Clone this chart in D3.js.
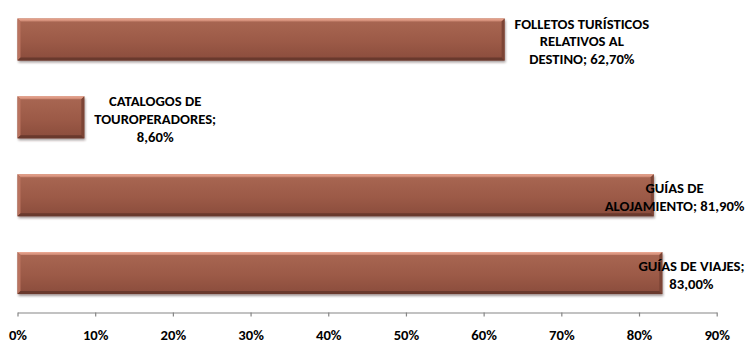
<!DOCTYPE html>
<html>
<head>
<meta charset="utf-8">
<script src="https://cdn.jsdelivr.net/npm/d3@7"></script>
<style>
  html, body { margin: 0; padding: 0; background: #ffffff; }
  svg { display: block; }
</style>
</head>
<body>
<svg id="chart" width="746" height="343"></svg>
<script>
// ---- data ----
const categories = [
  "FOLLETOS TURÍSTICOS RELATIVOS AL DESTINO",
  "CATALOGOS DE TOUROPERADORES",
  "GUÍAS DE ALOJAMIENTO",
  "GUÍAS DE VIAJES"
];
const values = [62.7, 8.6, 81.9, 83.0];
const labelLines = [
  ["FOLLETOS TURÍSTICOS", "RELATIVOS AL", "DESTINO; 62,70%"],
  ["CATALOGOS DE", "TOUROPERADORES;", "8,60%"],
  ["GUÍAS DE", "ALOJAMIENTO; 81,90%"],
  ["GUÍAS DE VIAJES;", "83,00%"]
];
const tickValues = [0, 10, 20, 30, 40, 50, 60, 70, 80, 90];
const tickLabels = ["0%", "10%", "20%", "30%", "40%", "50%", "60%", "70%", "80%", "90%"];

// ---- chart ----
const FONT = 'Carlito, "Liberation Sans Narrow", "Liberation Sans", Arial, sans-serif';
const FS = "14.67px";
const svg = d3.select("#chart");

const x = d3.scaleLinear().domain([0, 90]).range([17.5, 716.7]);
const y = d3.scaleBand().domain(categories).range([0.5, 312]).paddingInner(0.46).paddingOuter(0.23);

const defs = svg.append("defs");
const body = defs.append("linearGradient").attr("id", "bodyGrad").attr("x1", 0).attr("y1", 0).attr("x2", 0).attr("y2", 1);
body.append("stop").attr("offset", "0%").attr("stop-color", "#a96753");
body.append("stop").attr("offset", "55%").attr("stop-color", "#9c5a47");
body.append("stop").attr("offset", "100%").attr("stop-color", "#8a4c3c");
const topG = defs.append("linearGradient").attr("id", "topGrad").attr("x1", 0).attr("y1", 0).attr("x2", 0).attr("y2", 1);
topG.append("stop").attr("offset", "0%").attr("stop-color", "#eeab95");
topG.append("stop").attr("offset", "100%").attr("stop-color", "#c9846f");
const blur = defs.append("filter").attr("id", "shadowBlur").attr("x", "-5%").attr("y", "-20%").attr("width", "110%").attr("height", "150%");
blur.append("feGaussianBlur").attr("stdDeviation", 1);

// axis
const axis = d3.axisBottom(x)
  .tickValues(tickValues)
  .tickFormat((d, i) => tickLabels[i])
  .tickSize(4)
  .tickSizeOuter(0)
  .tickPadding(13);
const gAxis = svg.append("g").attr("transform", "translate(0,312.5)").call(axis)
  .attr("font-family", null).attr("font-size", null);
gAxis.select(".domain").attr("stroke", "#868686").attr("stroke-width", 1.2);
gAxis.selectAll(".tick line").attr("stroke", "#868686").attr("stroke-width", 1.2);
gAxis.selectAll(".tick text").attr("fill", "#000")
  .style("font-family", FONT).style("font-size", FS).style("font-weight", "bold");

// bars
const b = 3;
const bars = svg.append("g").selectAll("g.bar").data(categories).join("g").attr("class", "bar");
bars.each(function (c, i) {
  const g = d3.select(this);
  const x0 = x(0), x1 = x(values[i]);
  const y0 = y(c), y1 = y(c) + y.bandwidth();
  const pts = a => a.map(p => p.join(",")).join(" ");
  g.append("rect").attr("x", x0 + 1).attr("y", y0 + 2).attr("width", x1 - x0).attr("height", y1 - y0)
    .attr("fill", "rgba(60,40,35,0.45)").attr("filter", "url(#shadowBlur)");
  g.append("rect").attr("x", x0).attr("y", y0).attr("width", x1 - x0).attr("height", y1 - y0).attr("fill", "url(#bodyGrad)");
  g.append("polygon").attr("points", pts([[x0, y0], [x1, y0], [x1 - b, y0 + b], [x0 + b, y0 + b]])).attr("fill", "url(#topGrad)");
  g.append("polygon").attr("points", pts([[x0, y0], [x0 + b, y0 + b], [x0 + b, y1 - b], [x0, y1]])).attr("fill", "#b9735f");
  g.append("polygon").attr("points", pts([[x1, y0], [x1, y1], [x1 - b, y1 - b], [x1 - b, y0 + b]])).attr("fill", "#7c4435");
  g.append("polygon").attr("points", pts([[x0, y1], [x0 + b, y1 - b], [x1 - b, y1 - b], [x1, y1]])).attr("fill", "#69392d");
});

// labels
const lh = 17.9;
const labels = svg.append("g").selectAll("text.lbl").data(categories).join("text").attr("class", "lbl")
  .attr("text-anchor", "middle").attr("fill", "#000")
  .style("font-family", FONT).style("font-size", FS).style("font-weight", "bold");
labels.each(function (c, i) {
  const t = d3.select(this);
  const lines = labelLines[i];
  const spans = lines.map(s => t.append("tspan").text(s));
  const w = d3.max(spans, s => s.node().getComputedTextLength());
  const cx = Math.min(x(values[i]) + 10 + w / 2, 744.5 - w / 2);
  const cy = y(c) + y.bandwidth() / 2 + 2.2;
  const first = cy - (lines.length - 1) / 2 * lh + 4.8;
  spans.forEach((s, k) => s.attr("x", cx).attr("y", first + k * lh));
});
</script>
</body>
</html>
